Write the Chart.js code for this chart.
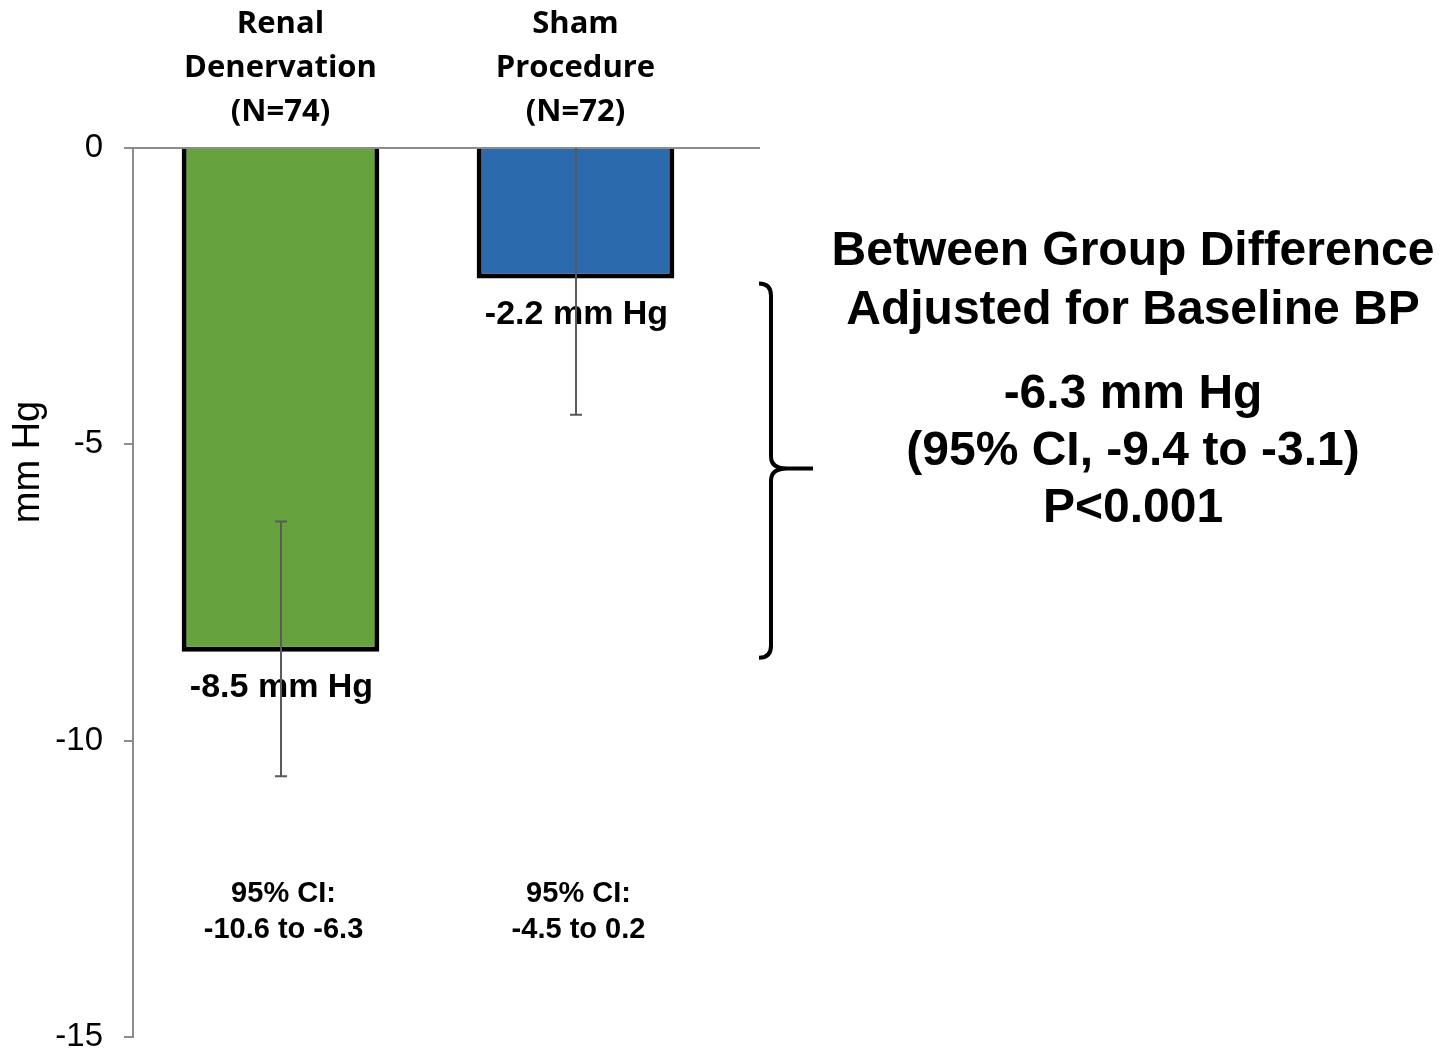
<!DOCTYPE html>
<html><head><meta charset="utf-8">
<script src="https://cdn.jsdelivr.net/npm/chart.js@4"></script>
<style>html,body{margin:0;padding:0;background:#fff}#wrap{width:1443px;height:1050px;position:relative}</style>
</head><body><div id="wrap"><canvas id="c"></canvas></div>
<script>
const categories = [["Renal","Denervation","(N=74)"],["Sham","Procedure","(N=72)"]];
const meanChange = [-8.5, -2.2];
const ciLow = [-10.6, -4.5];
const ciHigh = [-6.3, 0.2];
const valueLabels = ["-8.5 mm Hg", "-2.2 mm Hg"];
const ciLabels = [["95% CI:", "-10.6 to -6.3"], ["95% CI:", "-4.5 to 0.2"]];
const barColors = ["#66A23E", "#2A6AAD"];
const yTicks = [0, -5, -10, -15];
const yTitle = "mm Hg";
const diffHeader = ["Between Group Difference", "Adjusted for Baseline BP"];
const diffStats = ["-6.3 mm Hg", "(95% CI, -9.4 to -3.1)", "P<0.001"];

const ARIAL = '"Liberation Sans", Arial, sans-serif';

const overlay = {
  id: 'overlay',
  afterDatasetsDraw(chart) {
    const ctx = chart.ctx, y = chart.scales.y, ca = chart.chartArea;
    const meta = chart.getDatasetMeta(0);
    ctx.save();
    // y-axis title
    ctx.save();
    ctx.translate(29, 462); ctx.rotate(-Math.PI / 2);
    ctx.fillStyle = '#000'; ctx.textAlign = 'center'; ctx.textBaseline = 'middle';
    ctx.font = '38px ' + ARIAL;
    ctx.fillText(yTitle, 0, 0);
    ctx.restore();
    // zero line
    const y0 = y.getPixelForValue(0);
    ctx.strokeStyle = '#8C8C8C'; ctx.lineWidth = 2;
    ctx.beginPath(); ctx.moveTo(ca.left, y0); ctx.lineTo(760, y0); ctx.stroke();
    // value labels
    ctx.fillStyle = '#000'; ctx.textAlign = 'center'; ctx.textBaseline = 'middle';
    ctx.font = 'bold 34px ' + ARIAL;
    meta.data.forEach((bar, i) => ctx.fillText(valueLabels[i], bar.x + 1, y.getPixelForValue(meanChange[i]) + 36));
    // CI labels
    ctx.font = 'bold 29px ' + ARIAL;
    meta.data.forEach((bar, i) => ciLabels[i].forEach((t, k) => ctx.fillText(t, bar.x + 3, 894 + 36 * k)));
    // error bars
    ctx.save();
    ctx.beginPath(); ctx.rect(ca.left, ca.top, ca.right - ca.left, ca.bottom - ca.top); ctx.clip();
    ctx.strokeStyle = '#5A5A5A'; ctx.lineWidth = 2;
    meta.data.forEach((bar, i) => {
      const yl = y.getPixelForValue(ciLow[i]), yh = y.getPixelForValue(ciHigh[i]);
      const bx = Math.round(bar.x);
      ctx.beginPath();
      ctx.moveTo(bx, yl); ctx.lineTo(bx, yh);
      ctx.moveTo(bx - 6, yl); ctx.lineTo(bx + 6, yl);
      ctx.moveTo(bx - 6, yh); ctx.lineTo(bx + 6, yh);
      ctx.stroke();
    });
    ctx.restore();
    // brace
    const yt = y.getPixelForValue(meanChange[1]) + 5;
    const yb = y.getPixelForValue(meanChange[0]) + 6;
    const ym = (yt + yb) / 2 - 2;
    const xs = 771, xe = 759, xt = 813;
    ctx.strokeStyle = '#000'; ctx.lineWidth = 4; ctx.lineJoin = 'round';
    ctx.beginPath();
    ctx.moveTo(xe, yt);
    ctx.quadraticCurveTo(xs, yt, xs, yt + 12);
    ctx.lineTo(xs, ym - 12);
    ctx.quadraticCurveTo(xs, ym, xs + 16, ym);
    ctx.lineTo(xt, ym);
    ctx.moveTo(xs + 16, ym);
    ctx.quadraticCurveTo(xs, ym, xs, ym + 12);
    ctx.lineTo(xs, yb - 12);
    ctx.quadraticCurveTo(xs, yb, xe, yb);
    ctx.stroke();
    // right-hand text
    ctx.fillStyle = '#000'; ctx.textAlign = 'center'; ctx.textBaseline = 'middle';
    ctx.font = 'bold 48px ' + ARIAL;
    const cx = 1133;
    diffHeader.forEach((t, k) => ctx.fillText(t, cx, 252 + 59 * k));
    diffStats.forEach((t, k) => ctx.fillText(t, cx, 395 + 57 * k));
    ctx.restore();
  }
};

new Chart(document.getElementById('c'), {
  type: 'bar',
  data: {
    labels: categories,
    datasets: [{
      data: meanChange,
      backgroundColor: barColors,
      borderColor: '#000',
      borderWidth: 5,
      barPercentage: 0.67,
      categoryPercentage: 1
    }]
  },
  options: {
    responsive: true,
    maintainAspectRatio: false,
    devicePixelRatio: 1,
    animation: false,
    layout: { padding: { left: 0, top: 0, right: 720, bottom: 13 } },
    plugins: { legend: { display: false }, tooltip: { enabled: false } },
    scales: {
      x: {
        position: 'top',
        grid: { display: false },
        border: { display: false },
        ticks: { color: '#000', padding: 6, font: { family: '"Open Sans", sans-serif', size: 31, weight: 'bold', lineHeight: 44 / 31 } },
        afterFit: s => { s.height = 148; s.paddingLeft = 0; s.paddingRight = 0; }
      },
      y: {
        min: -15, max: 0,
        afterBuildTicks: s => { s.ticks = yTicks.map(v => ({ value: v })); },
        ticks: { color: '#000', padding: 21, font: { family: ARIAL, size: 33 } },
        grid: { drawOnChartArea: false, tickLength: 9, color: '#8C8C8C', lineWidth: 2 },
        border: { color: '#8C8C8C', width: 2 },
        afterFit: s => { s.width = 133; s.paddingTop = 0; s.paddingBottom = 0; }
      }
    }
  },
  plugins: [overlay]
});
</script>
</body></html>
